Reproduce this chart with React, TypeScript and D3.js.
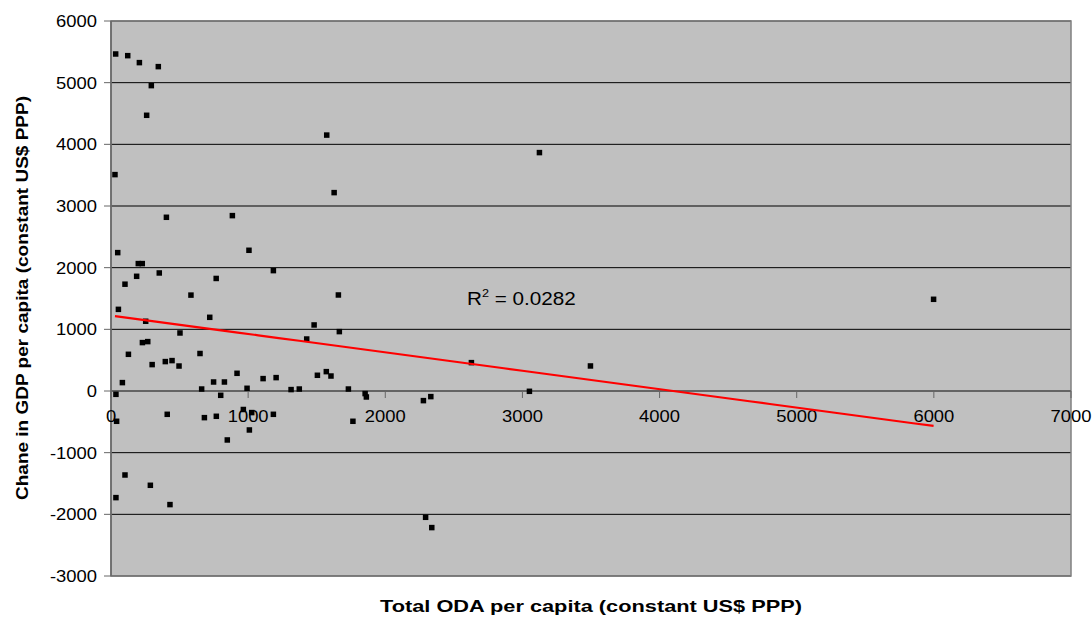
import React from 'react';
import * as d3 from 'd3';

const W = 1092;
const H = 617;
const margin = { top: 21, right: 21, bottom: 41, left: 111 };

// Total ODA per capita (x) vs change in GDP per capita (y)
const odaPerCapita = [
  34, 122, 207, 345, 294, 260, 29, 1573, 1627, 404, 885, 49, 1006, 199, 228, 187,
  352, 102, 767, 1184, 583, 1658, 54, 720, 253, 1481, 1665, 503, 1427, 229, 268,
  127, 649, 300, 396, 445, 496, 919, 83, 748, 827, 1109, 1204, 1505, 1570, 1604,
  661, 992, 1313, 1373, 1731, 1853, 1862, 36, 800, 41, 410, 681, 768, 965, 1026,
  1184, 1009, 848, 1764, 102, 287, 36, 430, 2278, 2332, 2294, 2339, 3124, 2628,
  3496, 3051, 5998,
];
const gdpChange = [
  5465, 5438, 5325, 5260, 4952, 4471, 3509, 4150, 3217, 2817, 2844, 2244, 2282, 2066,
  2066, 1860, 1914, 1732, 1825, 1952, 1555, 1557, 1324, 1195, 1131, 1071, 963, 941,
  843, 785, 801, 595, 608, 428, 477, 493, 405, 287, 136, 146, 146, 201, 217, 255, 314,
  243, 32, 44, 23, 32, 32, -42, -97, -54, -70, -491, -378, -432, -410, -300, -350,
  -378, -632, -794, -491, -1362, -1529, -1729, -1842, -156, -91, -2048, -2215, 3866,
  460, 406, -5, 1487,
];

const xTicks = [0, 1000, 2000, 3000, 4000, 5000, 6000, 7000];
const yTicks = [-3000, -2000, -1000, 0, 1000, 2000, 3000, 4000, 5000, 6000];

// linear trendline (Excel)
const trendIntercept = 1224;
const trendSlope = -0.2986;
const rSquaredLabel = '0.0282';

const App = () => {
  const x = d3.scaleLinear().domain([0, 7000]).range([margin.left, W - margin.right]);
  const y = d3.scaleLinear().domain([-3000, 6000]).range([H - margin.bottom, margin.top]);

  const pts = odaPerCapita.map((v, i) => [v, gdpChange[i]]);
  const [xmin, xmax] = d3.extent(odaPerCapita) as [number, number];
  const trend = d3.range(0, 41).map(i => {
    const xv = xmin + (xmax - xmin) * i / 40;
    return [xv, trendIntercept + trendSlope * xv];
  });
  const line = d3.line<number[]>().x(d => x(d[0])).y(d => y(d[1]));

  const font = '"Liberation Sans", Arial, sans-serif';
  const sx = 1.15;
  const y0 = y(0);

  return (
    <svg width={W} height={H} style={{ position: 'absolute', left: 0, top: 0, background: '#fff' }}>
      <rect x={x(0)} y={y(6000)} width={x(7000) - x(0)} height={y(-3000) - y(6000)} fill="#c0c0c0" />
      {yTicks.map(t => (
        <line key={'g' + t} x1={x(0)} x2={x(7000)} y1={y(t)} y2={y(t)} stroke="#000" strokeWidth={1} />
      ))}
      <rect x={x(0)} y={y(6000)} width={x(7000) - x(0)} height={y(-3000) - y(6000)} fill="none" stroke="#808080" strokeWidth={1.5} />
      {/* y axis */}
      <line x1={x(0)} x2={x(0)} y1={y(6000)} y2={y(-3000)} stroke="#666" strokeWidth={1.5} />
      {yTicks.map(t => (
        <g key={'y' + t}>
          <line x1={x(0) - 7} x2={x(0)} y1={y(t)} y2={y(t)} stroke="#666" />
          <text transform={`translate(${x(0) - 14},${y(t) + 6}) scale(${sx},1)`} textAnchor="end" fontFamily={font} fontSize={16} fill="#000">{t}</text>
        </g>
      ))}
      {/* x axis at zero */}
      <line x1={x(0)} x2={x(7000)} y1={y0} y2={y0} stroke="#666" strokeWidth={1.5} />
      {xTicks.map(t => (
        <g key={'x' + t}>
          <line x1={x(t)} x2={x(t)} y1={y0} y2={y0 + 7} stroke="#666" />
          <text transform={`translate(${x(t)},${y0 + 31}) scale(${sx},1)`} textAnchor="middle" fontFamily={font} fontSize={16} fill="#000">{t}</text>
        </g>
      ))}
      {pts.map((d, i) => (
        <rect key={i} x={x(d[0]) - 2.75} y={y(d[1]) - 2.75} width={5.5} height={5.5} fill="#000" />
      ))}
      <path d={line(trend) || ''} fill="none" stroke="#ff0000" strokeWidth={2.2} />
      <text transform={`translate(467,305) scale(${sx},1)`} fontFamily={font} fontSize={18} fill="#000">
        R<tspan dy={-8} fontSize={11}>2</tspan><tspan dy={8}> = {rSquaredLabel}</tspan>
      </text>
      <text x={(x(0) + x(7000)) / 2} y={612} textAnchor="middle" fontFamily={font} fontSize={16.5} fontWeight="bold" textLength={422} lengthAdjust="spacingAndGlyphs">Total ODA per capita (constant US$ PPP)</text>
      <text transform={`translate(28,298) rotate(-90)`} textAnchor="middle" fontFamily={font} fontSize={17} fontWeight="bold" textLength={404} lengthAdjust="spacingAndGlyphs">Chane in GDP per capita (constant US$ PPP)</text>
    </svg>
  );
};

export default App;
